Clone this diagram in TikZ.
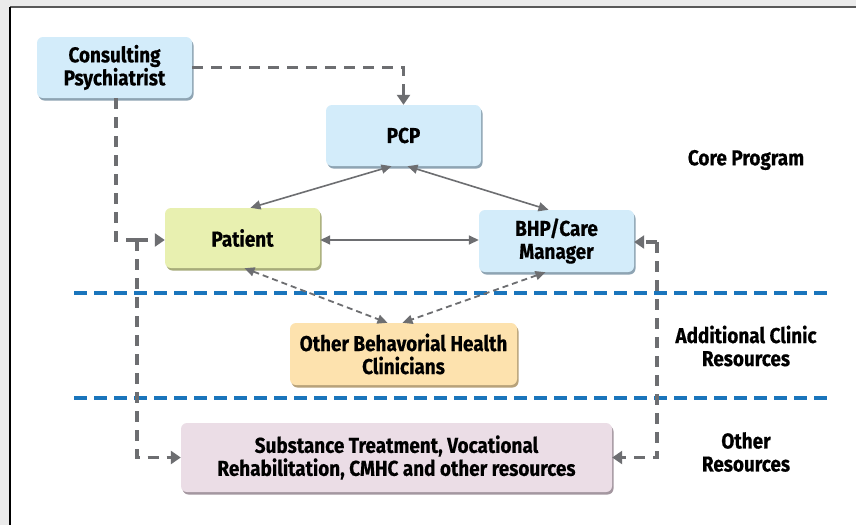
\documentclass[tikz,border=0pt]{standalone}
\usepackage{fontspec}
\setmainfont[FakeStretch=0.88, BoldFeatures={FakeBold=0.5}]{Fira Sans}
\usetikzlibrary{arrows.meta,shadows}
\definecolor{bgcol}{HTML}{EBEBEB}
\definecolor{bluebox}{HTML}{D3ECFA}
\definecolor{blueshd}{HTML}{8EA4B3}
\definecolor{greenbox}{HTML}{E8F0B0}
\definecolor{greenshd}{HTML}{A7AC7A}
\definecolor{orangebox}{HTML}{FDE2AE}
\definecolor{orangeshd}{HTML}{B8A27A}
\definecolor{pinkbox}{HTML}{EBDDE6}
\definecolor{pinkshd}{HTML}{A497A0}
\definecolor{linegray}{HTML}{6D6E71}
\definecolor{sepblue}{HTML}{1A75BC}
\tikzset{
  box/.style={rounded corners=6pt, align=center, font=\bfseries\fontsize{21.5}{23}\selectfont,
    inner sep=0pt},
  boxshd/.style={drop shadow={shadow xshift=1.5pt, shadow yshift=-2.5pt, fill=#1, opacity=1}},
  dthick/.style={draw=linegray, line width=3.6pt, dash pattern=on 11pt off 8pt,
    -{Triangle[length=10pt,width=13pt]}},
  solidarr/.style={draw=linegray, line width=1.6pt,
    {Triangle[length=10pt,width=9pt]}-{Triangle[length=10pt,width=9pt]}},
  dashthin/.style={draw=linegray, line width=1.8pt, dash pattern=on 6pt off 4pt,
    {Triangle[length=10pt,width=9pt]}-{Triangle[length=10pt,width=9pt]}},
  sepline/.style={draw=sepblue, line width=3.5pt, dash pattern=on 13pt off 7pt},
  lbl/.style={align=center, font=\bfseries\fontsize{21.5}{23}\selectfont}
}
\begin{document}
\begin{tikzpicture}[x=1pt,y=-1pt]
\useasboundingbox (0,0) rectangle (856,525);
\fill[bgcol] (0,0) rectangle (856,525);
\fill[white] (10,7) rectangle (856,525);
\draw[line width=1.2pt, draw=black!65] (10,7) -- (856,7);
\draw[line width=1.2pt, draw=black] (10,7) -- (10,525);

% separators
\draw[sepline] (74,293) -- (828,293);
\draw[sepline] (74,398) -- (828,398);

% boxes
\node[box, boxshd=blueshd, fill=bluebox, minimum width=155pt, minimum height=61pt]
  (cp) at (114.5,67.5) {Consulting\\Psychiatrist};
\node[box, boxshd=blueshd, fill=bluebox, minimum width=155pt, minimum height=61pt]
  (pcp) at (403.5,135.5) {PCP};
\node[box, boxshd=greenshd, fill=greenbox, minimum width=155pt, minimum height=60pt]
  (pat) at (242.5,238) {Patient};
\node[box, boxshd=blueshd, fill=bluebox, minimum width=155pt, minimum height=62pt]
  (bhp) at (556.5,241) {BHP/Care\\Manager};
\node[box, boxshd=orangeshd, fill=orangebox, minimum width=227pt, minimum height=62pt]
  (obh) at (403.5,354) {Other Behavorial Health\\Clinicians};
\node[box, boxshd=pinkshd, fill=pinkbox, minimum width=431pt, minimum height=69pt]
  (sub) at (396.5,457.5) {Substance Treatment, Vocational\\Rehabilitation, CMHC and other resources};

% labels
\node[lbl] (l1) at (746,160) {Core Program};
\node[lbl] (l2) at (746,346) {Additional Clinic\\Resources};
\node[lbl] (l3) at (746,452) {Other\\Resources};

% junctions
\coordinate (j1) at (137,240);
\coordinate (j2) at (657,242);

% thick dashed connectors
\draw[dthick] (cp.east) -| (pcp.north);
\draw[dthick, -] ([xshift=1.5pt]cp.south) |- (j1);
\draw[dthick] (j1) -- (j1 -| pat.west);
\draw[dthick] (j1) |- (sub.west);
\draw[dthick] (j2) -- (j2 -| bhp.east);
\draw[dthick] (j2) |- (sub.east);

% solid connectors
\draw[solidarr] ([xshift=-12pt]pcp.south) -- ([xshift=8pt]pat.north);
\draw[solidarr] ([xshift=4pt]pcp.south) -- ([xshift=-8pt]bhp.north);
\draw[solidarr] ([yshift=-2pt]pat.east) -- ([yshift=-2pt]pat.east -| bhp.west);

% thin dashed connectors
\draw[dashthin] ([xshift=2pt]pat.south) -- ([xshift=-16pt]obh.north);
\draw[dashthin] ([xshift=-11pt]bhp.south) -- ([xshift=-1pt]obh.north);
\end{tikzpicture}
\end{document}
